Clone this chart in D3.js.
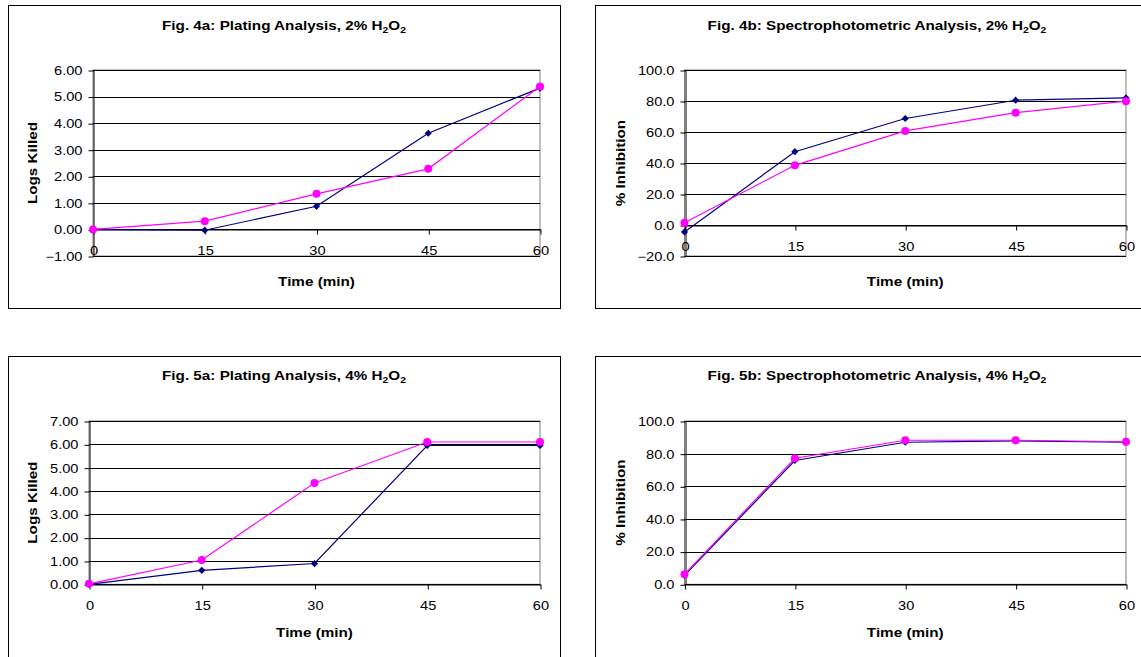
<!DOCTYPE html>
<html>
<head>
<meta charset="utf-8">
<script src="https://cdn.jsdelivr.net/npm/d3@7"></script>
<style>
  body { margin: 0; background: #fff; }
  svg { display: block; }
  text { font-family: "Liberation Sans", Arial, sans-serif; fill: #000; }
</style>
</head>
<body>
<div id="chart"></div>
<script>
// Time points shared by every figure
const times = [0, 15, 30, 45, 60];

// Fig. 4a - plating, 2% H2O2 (logs killed)
const fig4aNavy = [0.00, -0.03, 0.87, 3.62, 5.32];
const fig4aPink = [0.00, 0.31, 1.34, 2.28, 5.38];
const fig4aTicks = [-1, 0, 1, 2, 3, 4, 5, 6];

// Fig. 4b - spectrophotometric, 2% H2O2 (% inhibition)
const fig4bNavy = [-4.5, 47.3, 68.7, 80.5, 82.0];
const fig4bPink = [1.5, 38.5, 60.7, 72.5, 79.9];
const fig4bTicks = [-20, 0, 20, 40, 60, 80, 100];

// Fig. 5a - plating, 4% H2O2
const fig5aNavy = [0.00, 0.60, 0.89, 5.95, 5.95];
const fig5aPink = [0.02, 1.04, 4.34, 6.10, 6.10];
const fig5aTicks = [0, 1, 2, 3, 4, 5, 6, 7];

// Fig. 5b - spectrophotometric, 4% H2O2
const fig5bNavy = [5.5, 75.8, 87.0, 87.8, 87.0];
const fig5bPink = [6.2, 77.2, 88.2, 88.2, 87.3];
const fig5bTicks = [0, 20, 40, 60, 80, 100];

const width = 1141;
const height = 657;
const SX = 1.22; // the original text is rendered wider than Arial

const svg = d3.select("#chart").append("svg")
  .attr("width", width)
  .attr("height", height);

// helper: text stretched horizontally like the source
function label(g, x, y, opts = {}) {
  return g.append("text")
    .attr("text-anchor", "middle")
    .attr("font-size", opts.size || 12.5)
    .attr("font-weight", "bold")
    .attr("transform", `translate(${x},${y})${opts.rotate ? " rotate(-90)" : ""} scale(${SX},1)`);
}

function drawPanel(p) {
  const g = svg.append("g");

  // outer chart frame
  g.append("rect")
    .attr("x", p.frame[0] + 0.5).attr("y", p.frame[1] + 0.5)
    .attr("width", p.frame[2]).attr("height", p.frame[3])
    .attr("fill", "#fff").attr("stroke", "#000").attr("stroke-width", 1);

  const x = d3.scalePoint().domain(times).range([p.left, p.right]);
  const y = d3.scaleLinear().domain(p.domain).range([p.bottom, p.top]);

  // plot area border
  g.append("rect")
    .attr("x", p.left).attr("y", p.top)
    .attr("width", p.right - p.left).attr("height", p.bottom - p.top)
    .attr("fill", "none").attr("stroke", "#808080");

  // horizontal gridlines
  g.append("g").selectAll("line")
    .data(p.ticks)
    .join("line")
    .attr("x1", p.left).attr("x2", p.right)
    .attr("y1", d => Math.round(y(d)) + 0.5).attr("y2", d => Math.round(y(d)) + 0.5)
    .attr("stroke", "#000");

  // y axis
  const yAxis = g.append("g")
    .attr("transform", `translate(${Math.round(p.left) + 0.5},0.5)`)
    .call(d3.axisLeft(y).tickValues(p.ticks).tickFormat(d3.format(p.fmt))
      .tickSize(5).tickSizeOuter(0));
  yAxis.select(".domain").attr("stroke", "#000");
  yAxis.selectAll("text")
    .attr("font-size", 12)
    .attr("font-family", "Liberation Sans, Arial, sans-serif")
    .attr("x", -11 / SX)
    .attr("transform", `scale(${SX},1)`);

  // x axis crosses at value 0
  const xAxis = g.append("g")
    .attr("transform", `translate(0.5,${Math.round(y(0)) + 0.5})`)
    .call(d3.axisBottom(x).tickSize(5).tickPadding(12).tickSizeOuter(0));
  xAxis.select(".domain").attr("stroke", "#000");
  xAxis.selectAll("text")
    .attr("font-size", 12)
    .attr("font-family", "Liberation Sans, Arial, sans-serif")
    .attr("transform", `scale(${SX},1)`);

  // series
  const line = d3.line().x((d, i) => x(times[i])).y(d => y(d));
  g.append("path").datum(p.navy)
    .attr("d", line).attr("fill", "none")
    .attr("stroke", "#000080").attr("stroke-width", 1.2);
  g.append("g").selectAll("path")
    .data(p.navy)
    .join("path")
    .attr("d", d3.symbol(d3.symbolSquare, 26))
    .attr("transform", (d, i) => `translate(${x(times[i])},${y(d)}) rotate(45)`)
    .attr("fill", "#000080");

  g.append("path").datum(p.pink)
    .attr("d", line).attr("fill", "none")
    .attr("stroke", "#ff00ff").attr("stroke-width", 1.2);
  g.append("g").selectAll("circle")
    .data(p.pink)
    .join("circle")
    .attr("cx", (d, i) => x(times[i]))
    .attr("cy", d => y(d))
    .attr("r", 4)
    .attr("fill", "#ff00ff");

  // chart title with subscripts
  const title = label(g, p.titleX, p.titleY);
  title.append("tspan").text(p.title + " H");
  title.append("tspan").attr("font-size", 8.5).attr("dy", 3).text("2");
  title.append("tspan").attr("dy", -3).text("O");
  title.append("tspan").attr("font-size", 8.5).attr("dy", 3).text("2");

  // axis titles
  label(g, (p.left + p.right) / 2, p.xTitleY).text("Time (min)");
  label(g, p.yTitleX, (p.top + p.bottom) / 2, { rotate: true }).text(p.yTitle);
}

drawPanel({
  frame: [8, 5, 552, 303],
  left: 93, right: 540, top: 70, bottom: 256, xTitleY: 286,
  domain: [-1, 6], ticks: fig4aTicks, fmt: ".2f",
  navy: fig4aNavy, pink: fig4aPink,
  title: "Fig. 4a: Plating Analysis, 2%", titleX: 284, titleY: 29.5,
  yTitle: "Logs Killed", yTitleX: 37
});

drawPanel({
  frame: [595, 5, 570, 303],
  left: 684.5, right: 1126, top: 70, bottom: 256, xTitleY: 286,
  domain: [-20, 100], ticks: fig4bTicks, fmt: ".1f",
  navy: fig4bNavy, pink: fig4bPink,
  title: "Fig. 4b: Spectrophotometric Analysis, 2%", titleX: 877, titleY: 29.5,
  yTitle: "% Inhibition", yTitleX: 625
});

drawPanel({
  frame: [8, 356, 552, 320],
  left: 89, right: 540, top: 421, bottom: 584.3, xTitleY: 636.5,
  domain: [0, 7], ticks: fig5aTicks, fmt: ".2f",
  navy: fig5aNavy, pink: fig5aPink,
  title: "Fig. 5a: Plating Analysis, 4%", titleX: 284, titleY: 380,
  yTitle: "Logs Killed", yTitleX: 37
});

drawPanel({
  frame: [595, 356, 570, 320],
  left: 684.5, right: 1126, top: 421, bottom: 584.3, xTitleY: 636.5,
  domain: [0, 100], ticks: fig5bTicks, fmt: ".1f",
  navy: fig5bNavy, pink: fig5bPink,
  title: "Fig. 5b: Spectrophotometric Analysis, 4%", titleX: 877, titleY: 380,
  yTitle: "% Inhibition", yTitleX: 625
});
</script>
</body>
</html>
